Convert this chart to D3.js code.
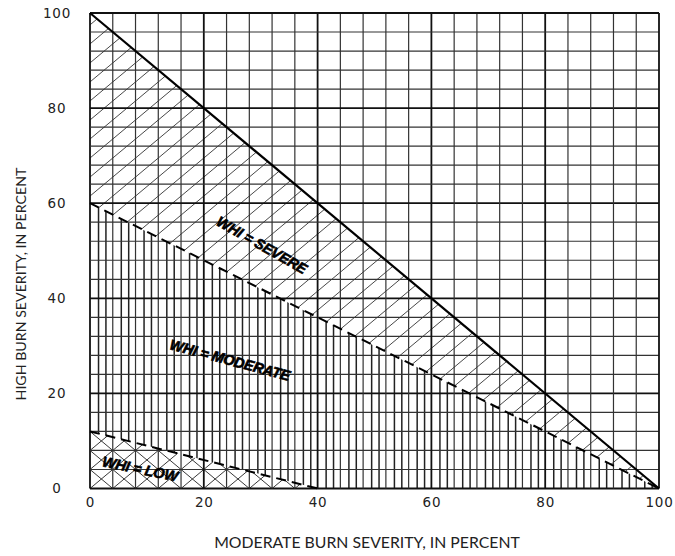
<!DOCTYPE html>
<html>
<head>
<meta charset="utf-8">
<script src="https://cdn.jsdelivr.net/npm/d3@7"></script>
<style>
  body { margin: 0; background: #fff; }
  svg { display: block; }
</style>
</head>
<body>
<svg id="chart" width="675" height="556"></svg>
<script>
// Tick values on both axes (percent)
const xTicks = [0, 20, 40, 60, 80, 100];
const yTicks = [0, 20, 40, 60, 80, 100];
// Graph-paper grid spacing (percent)
const gridStep = 4;

// Class boundaries: [moderate %, high %] end points
const severeLimit = [[0, 100], [100, 0]];    // solid line
const moderateLimit = [[0, 60], [100, 0]];   // dashed: SEVERE / MODERATE
const lowLimit = [[0, 12], [40, 0]];         // dashed: MODERATE / LOW

// Class label text, anchor point (percent) and baseline angle (deg)
const classNames = ["WHI = SEVERE", "WHI = MODERATE", "WHI = LOW"];
const classAnchorX = [30.2, 24.6, 8.8];
const classAnchorY = [51.2, 27.0, 4.1];
const classAngle = [29.5, 15, 11.5];

const svg = d3.select("#chart");
const W = 675, H = 556;
const x = d3.scaleLinear().domain([0, 100]).range([90, 659]);
const y = d3.scaleLinear().domain([0, 100]).range([488.5, 13]);

svg.append("rect").attr("width", W).attr("height", H).attr("fill", "#fff");

const defs = svg.append("defs");
const line = d3.line().x(d => x(d[0])).y(d => y(d[1]));

// Region polygons (percent space)
const severeRegion = [severeLimit[0], severeLimit[1], moderateLimit[0]];
const moderateRegion = [moderateLimit[0], moderateLimit[1], lowLimit[1], lowLimit[0]];
const lowRegion = [lowLimit[0], lowLimit[1], [0, 0]];

function clip(id, pts) {
  defs.append("clipPath").attr("id", id)
    .append("path").attr("d", line(pts) + "Z");
}
clip("clipSevere", severeRegion);
clip("clipModerate", moderateRegion);
clip("clipLow", lowRegion);

// SEVERE: single diagonal hatch (lines of slope 1 in percent space)
const gSevere = svg.append("g").attr("clip-path", "url(#clipSevere)");
d3.range(-100 + 1.5, 101, gridStep).forEach(c => {
  gSevere.append("path")
    .attr("d", line([[0, c], [100, c + 100]]))
    .attr("stroke", "#333").attr("stroke-width", 0.9).attr("fill", "none");
});

// MODERATE: vertical hatch between the grid lines
const gModerate = svg.append("g").attr("clip-path", "url(#clipModerate)");
d3.range(0, 100, gridStep).forEach(c => {
  [1.5, 2.8].forEach(o => {
    gModerate.append("path")
      .attr("d", line([[c + o, 0], [c + o, 100]]))
      .attr("stroke", "#222").attr("stroke-width", 1.5).attr("fill", "none");
  });
});

// LOW: cross hatch through the grid-cell corners
const gLow = svg.append("g").attr("clip-path", "url(#clipLow)");
d3.range(-100, 101, gridStep).forEach(c => {
  gLow.append("path").attr("d", line([[0, c], [100, c + 100]]))
    .attr("stroke", "#222").attr("stroke-width", 0.9).attr("fill", "none");
  gLow.append("path").attr("d", line([[0, c], [100, c - 100]]))
    .attr("stroke", "#222").attr("stroke-width", 0.9).attr("fill", "none");
});

// Graph-paper grid; every 20 percent drawn heavier
const grid = svg.append("g");
d3.range(0, 101, gridStep).forEach(v => {
  const major = v % 20 === 0;
  grid.append("line")
    .attr("x1", x(v)).attr("x2", x(v)).attr("y1", y(0)).attr("y2", y(100))
    .attr("stroke", major ? "#111" : "#333").attr("stroke-width", major ? 1.8 : 1.2);
  grid.append("line")
    .attr("y1", y(v)).attr("y2", y(v)).attr("x1", x(0)).attr("x2", x(100))
    .attr("stroke", major ? "#111" : "#333").attr("stroke-width", major ? 1.8 : 1.2);
});

// Class boundaries
svg.append("path").attr("d", line(severeLimit))
  .attr("stroke", "#000").attr("stroke-width", 2.2).attr("fill", "none");
svg.append("path").attr("d", line(moderateLimit))
  .attr("stroke", "#000").attr("stroke-width", 2).attr("stroke-dasharray", "10,6").attr("fill", "none");
svg.append("path").attr("d", line(lowLimit))
  .attr("stroke", "#000").attr("stroke-width", 2).attr("stroke-dasharray", "10,6").attr("fill", "none");

// Class labels
classNames.forEach((t, i) => {
  svg.append("text")
    .attr("transform", `translate(${x(classAnchorX[i])},${y(classAnchorY[i])}) rotate(${classAngle[i]})`)
    .attr("text-anchor", "middle").attr("dy", "0.35em")
    .attr("font-family", "'Liberation Sans', Arial, sans-serif")
    .attr("font-weight", "bold").attr("font-style", "italic")
    .attr("font-size", 14.5).attr("letter-spacing", -0.2)
    .attr("fill", "#000").attr("stroke", "#000").attr("stroke-width", 0.6)
    .text(t);
});

// Axes (tick labels only)
const xAxis = svg.append("g").attr("transform", `translate(0,${y(0)})`)
  .call(d3.axisBottom(x).tickValues(xTicks).tickSize(0).tickPadding(9).tickFormat(d3.format("d")));
const yAxis = svg.append("g").attr("transform", `translate(${x(0)},0)`)
  .call(d3.axisLeft(y).tickValues(yTicks).tickSize(0).tickPadding(33).tickFormat(d3.format("d")));
[xAxis, yAxis].forEach(g => {
  g.select(".domain").remove();
  g.selectAll("text")
    .attr("font-family", "'DejaVu Sans', Arial, sans-serif")
    .attr("font-size", 13.5).attr("letter-spacing", 0.8).attr("fill", "#222");
});
yAxis.selectAll("text").attr("text-anchor", "middle");

// Axis titles
svg.append("text")
  .attr("x", 367).attr("y", 548)
  .attr("text-anchor", "middle")
  .attr("font-family", "Lato, 'Open Sans', sans-serif")
  .attr("font-size", 15.8).attr("fill", "#222")
  .text("MODERATE BURN SEVERITY, IN PERCENT");
svg.append("text")
  .attr("transform", "translate(26,284) rotate(-90)")
  .attr("text-anchor", "middle")
  .attr("font-family", "Lato, 'Open Sans', sans-serif")
  .attr("font-size", 14.2).attr("fill", "#222")
  .text("HIGH BURN SEVERITY, IN PERCENT");
</script>
</body>
</html>
